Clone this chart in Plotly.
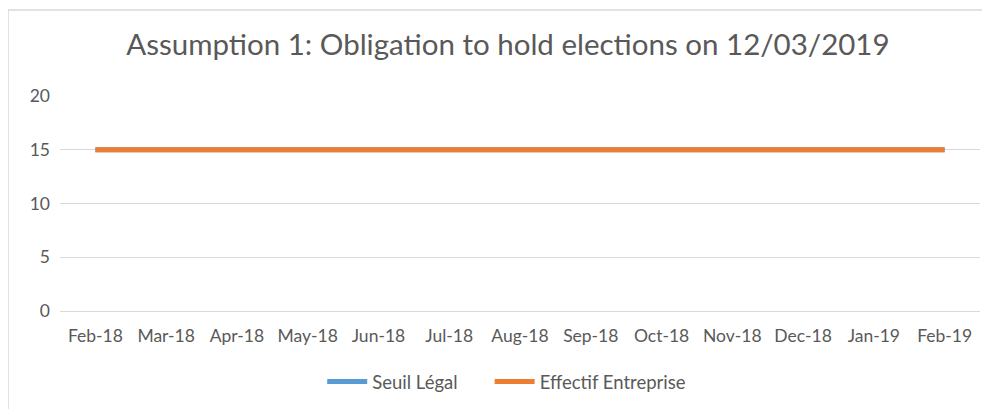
import plotly.graph_objects as go

months = ["Feb-18", "Mar-18", "Apr-18", "May-18", "Jun-18", "Jul-18", "Aug-18",
          "Sep-18", "Oct-18", "Nov-18", "Dec-18", "Jan-19", "Feb-19"]
seuil_legal = [15] * 13
effectif_entreprise = [15] * 13
y_ticks = [0, 5, 10, 15, 20]

FONT = "Lato"
GRAY = "#595959"

fig = go.Figure()
fig.add_trace(go.Scatter(x=months, y=seuil_legal, mode="lines", name="Seuil Légal",
                         line=dict(color="#5b9bd5", width=5), legend="legend"))
fig.add_trace(go.Scatter(x=months, y=effectif_entreprise, mode="lines", name="Effectif Entreprise",
                         line=dict(color="#ed7d31", width=5), legend="legend2"))

leg_common = dict(orientation="h", yanchor="middle", y=-0.33, xanchor="left",
                  font=dict(family=FONT, size=18.5, color=GRAY), itemwidth=40,
                  bgcolor="rgba(0,0,0,0)")

fig.update_layout(
    width=990, height=409,
    margin=dict(l=52, r=18, t=88, b=106),
    paper_bgcolor="white", plot_bgcolor="white",
    title=dict(text="Assumption 1: Obligation to hold elections on 12/03/2019",
               x=0.505, xanchor="center", y=0.9095, yanchor="middle",
               font=dict(family=FONT, size=29.5, color=GRAY)),
    font=dict(family=FONT, size=17, color=GRAY),
    xaxis=dict(type="category", range=[-0.5, 12.5], showgrid=False, zeroline=False,
               showline=True, linecolor="#d9d9d9", ticks="", ticklabelstandoff=9,
               tickfont=dict(family=FONT, size=17.5, color=GRAY)),
    yaxis=dict(range=[0, 20], tickvals=y_ticks, showgrid=True, gridcolor="#d9d9d9",
               zeroline=False, showline=False, ticks="", ticklabelstandoff=9,
               tickfont=dict(family=FONT, size=17.5, color=GRAY)),
    legend=dict(x=0.285, **leg_common),
    legend2=dict(x=0.467, **leg_common),
    showlegend=True,
)
fig.add_shape(type="rect", xref="paper", yref="paper",
              x0=(0 - 52) / 920, x1=(1000 - 52) / 920, y0=-0.6, y1=(303 - 2) / 215,
              line=dict(color="#d9d9d9", width=1.5), layer="below")

fig.write_html("out.html")
